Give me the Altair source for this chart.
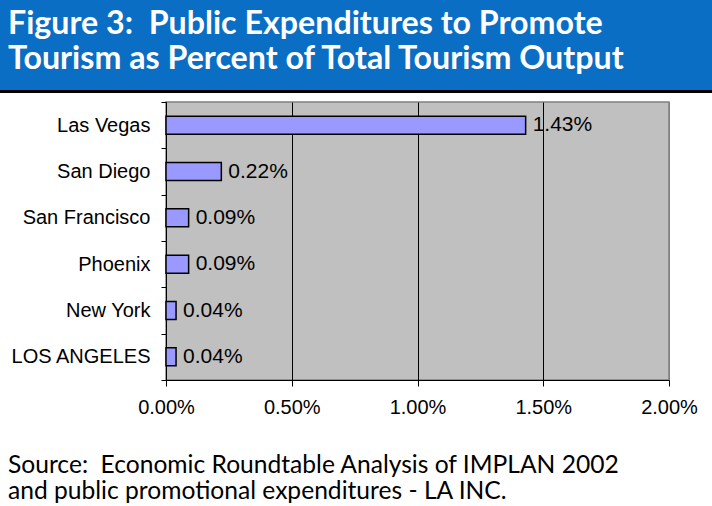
import altair as alt
import pandas as pd

cities = ["Las Vegas", "San Diego", "San Francisco", "Phoenix", "New York", "LOS ANGELES"]
values = [0.0143, 0.0022, 0.0009, 0.0009, 0.0004, 0.0004]
x_ticks = [0, 0.005, 0.01, 0.015, 0.02]

title_lines = ["Figure 3:\u00a0 Public Expenditures to Promote",
               "Tourism as Percent of Total Tourism Output"]
source_lines = ["Source:\u00a0 Economic Roundtable Analysis of IMPLAN 2002",
                "and public promotional expenditures - LA INC."]

df = pd.DataFrame({"city": cities, "value": values})

base = alt.Chart(df)

bars = base.mark_bar(size=18, color="#9999FF", stroke="black", strokeWidth=1.5).encode(
    x=alt.X("value:Q",
            scale=alt.Scale(domain=[0, 0.02], nice=False, zero=True),
            axis=alt.Axis(values=x_ticks, format=".2%", title=None, grid=True,
                          gridColor={"condition": {"test": "datum.value >= 0.02", "value": "#808080"}, "value": "#000000"},
                          gridWidth=1, domainColor="black", tickColor="black", tickSize=6,
                          labelFont="Liberation Sans", labelFontSize=20, labelColor="black",
                          labelPadding=11, labelFlush=False)),
    y=alt.Y("city:N", sort=cities,
            scale=alt.Scale(paddingInner=0, paddingOuter=0),
            axis=alt.Axis(title=None, domainColor="black", tickColor="black", tickSize=5,
                          tickBand="extent", labelFont="Liberation Sans", labelFontSize=20,
                          labelColor="black", labelPadding=11)),
)

labels = base.mark_text(align="left", baseline="middle", dx=7, font="Liberation Sans",
                        fontSize=21, color="black").encode(
    x="value:Q",
    y=alt.Y("city:N", sort=cities),
    text=alt.Text("value:Q", format=".2%"),
)

one = alt.Data(values=[{}])

banner = alt.Chart(one).mark_rect(color="#0A6EC4", clip=False).encode(
    x=alt.value(-166), x2=alt.value(546), y=alt.value(-102), y2=alt.value(-12))
blackline = alt.Chart(one).mark_rect(color="black", clip=False).encode(
    x=alt.value(-166), x2=alt.value(546), y=alt.value(-12), y2=alt.value(-9))

title = alt.Chart(one).mark_text(text=title_lines, lineHeight=35, align="left", baseline="alphabetic",
                                 font="Lato", fontWeight="bold", fontSize=32.2, color="white").encode(
    x=alt.value(-158), y=alt.value(-68))
source = alt.Chart(one).mark_text(text=source_lines, lineHeight=26, align="left", baseline="alphabetic",
                                  font="Lato", fontSize=24.6, color="black").encode(
    x=alt.value(-158), y=alt.value(371))

chart = alt.layer(banner, blackline, title, bars, labels, source).properties(
    width=503, height=278,
    autosize=alt.AutoSizeParams(type="none"),
    padding={"left": 166, "top": 102, "right": 43, "bottom": 126},
    background="white",
).configure_view(fill="#C0C0C0", stroke="#808080", strokeWidth=1.5)

chart.save("out.html", embed_options={"renderer": "svg", "actions": False})
